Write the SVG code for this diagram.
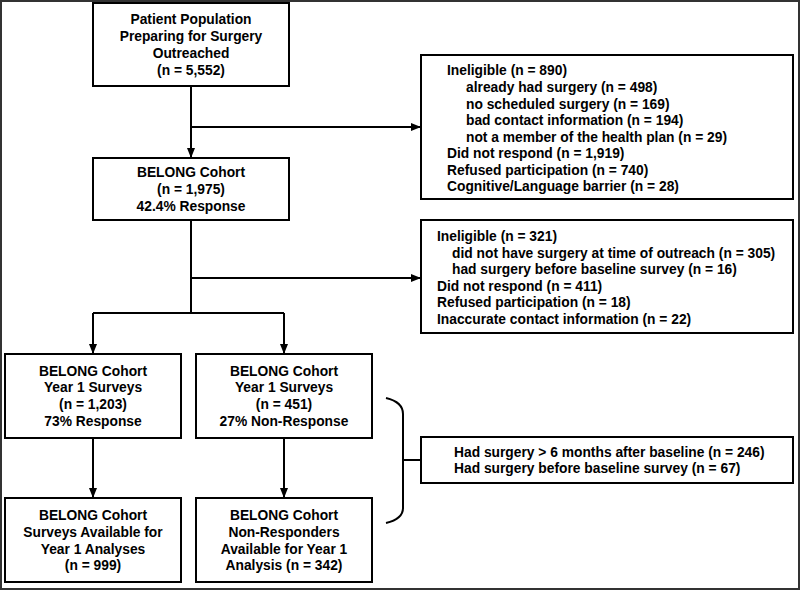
<svg xmlns="http://www.w3.org/2000/svg" width="800" height="590" viewBox="0 0 800 590">
<style>
.box{fill:#fff;stroke:#000;stroke-width:2}
.t{font-family:"Liberation Sans",Arial,sans-serif;font-weight:bold;font-size:13.8px;fill:#000}
.c{text-anchor:middle}
.ln{fill:none;stroke:#000;stroke-width:2}
</style>
<defs>
<marker id="ah" markerWidth="10" markerHeight="10" refX="9" refY="5" orient="auto" markerUnits="userSpaceOnUse">
<path d="M0,1 L10,5 L0,9 Z" fill="#000"/>
</marker>
</defs>
<rect x="1" y="1" width="798" height="588" fill="#fff" stroke="#333" stroke-width="2"/>
<g id="connectors">
<path class="ln" d="M191,86 V157" marker-end="url(#ah)"/>
<path class="ln" d="M191,127 H420" marker-end="url(#ah)"/>
<path class="ln" d="M191,220 V313"/>
<path class="ln" d="M191,278 H420" marker-end="url(#ah)"/>
<path class="ln" d="M93,313 H284"/>
<path class="ln" d="M93,313 V353" marker-end="url(#ah)"/>
<path class="ln" d="M284,313 V353" marker-end="url(#ah)"/>
<path class="ln" d="M93,438 V497" marker-end="url(#ah)"/>
<path class="ln" d="M284,438 V497" marker-end="url(#ah)"/>
<path class="ln" d="M386,398 Q403,402 403,414 V508 Q403,519 386,523"/>
<path class="ln" d="M403,460 H421"/>
</g>
<g id="n1">
<rect class="box" x="93" y="3" width="196" height="83"/>
<text class="t c" x="191" y="24">Patient Population</text>
<text class="t c" x="191" y="41">Preparing for Surgery</text>
<text class="t c" x="191" y="58">Outreached</text>
<text class="t c" x="191" y="75">(n = 5,552)</text>
</g>
<g id="n2">
<rect class="box" x="93" y="158" width="196" height="62"/>
<text class="t c" x="191" y="177">BELONG Cohort</text>
<text class="t c" x="191" y="194">(n = 1,975)</text>
<text class="t c" x="191" y="211">42.4%  Response</text>
</g>
<g id="ex1">
<rect class="box" x="421" y="55" width="372" height="144"/>
<text class="t" x="447" y="75">Ineligible (n = 890)</text>
<text class="t" x="466" y="92">already had surgery (n = 498)</text>
<text class="t" x="466" y="109">no scheduled surgery (n = 169)</text>
<text class="t" x="466" y="125">bad contact information (n = 194)</text>
<text class="t" x="466" y="142">not a member of the health plan (n = 29)</text>
<text class="t" x="447" y="158">Did not respond (n = 1,919)</text>
<text class="t" x="447" y="175">Refused participation (n = 740)</text>
<text class="t" x="447" y="191">Cognitive/Language barrier (n = 28)</text>
</g>
<g id="ex2">
<rect class="box" x="421" y="220" width="372" height="113"/>
<text class="t" x="437" y="241">Ineligible (n = 321)</text>
<text class="t" x="452" y="257.5">did not have surgery at time of outreach (n = 305)</text>
<text class="t" x="452" y="274">had surgery before baseline survey (n = 16)</text>
<text class="t" x="437" y="290.5">Did not respond (n = 411)</text>
<text class="t" x="437" y="307">Refused participation (n = 18)</text>
<text class="t" x="437" y="323.5">Inaccurate contact information (n = 22)</text>
</g>
<g id="n3">
<rect class="box" x="5" y="354" width="176" height="84"/>
<text class="t c" x="93" y="376">BELONG Cohort</text>
<text class="t c" x="93" y="392">Year 1 Surveys</text>
<text class="t c" x="93" y="409">(n = 1,203)</text>
<text class="t c" x="93" y="426">73%  Response</text>
</g>
<g id="n4">
<rect class="box" x="196" y="354" width="176" height="84"/>
<text class="t c" x="284" y="376">BELONG Cohort</text>
<text class="t c" x="284" y="392">Year 1 Surveys</text>
<text class="t c" x="284" y="409">(n = 451)</text>
<text class="t c" x="284" y="426">27%  Non-Response</text>
</g>
<g id="ex3">
<rect class="box" x="421" y="437" width="372" height="46"/>
<text class="t" x="454" y="457">Had surgery &gt; 6 months after baseline (n = 246)</text>
<text class="t" x="454" y="473">Had surgery before baseline survey (n = 67)</text>
</g>
<g id="n5">
<rect class="box" x="5" y="498" width="176" height="84"/>
<text class="t c" x="93" y="520">BELONG Cohort</text>
<text class="t c" x="93" y="537">Surveys Available for</text>
<text class="t c" x="93" y="554">Year 1 Analyses</text>
<text class="t c" x="93" y="570">(n = 999)</text>
</g>
<g id="n6">
<rect class="box" x="196" y="498" width="176" height="84"/>
<text class="t c" x="284" y="520">BELONG Cohort</text>
<text class="t c" x="284" y="537">Non-Responders</text>
<text class="t c" x="284" y="554">Available for Year 1</text>
<text class="t c" x="284" y="570">Analysis (n = 342)</text>
</g>
</svg>
